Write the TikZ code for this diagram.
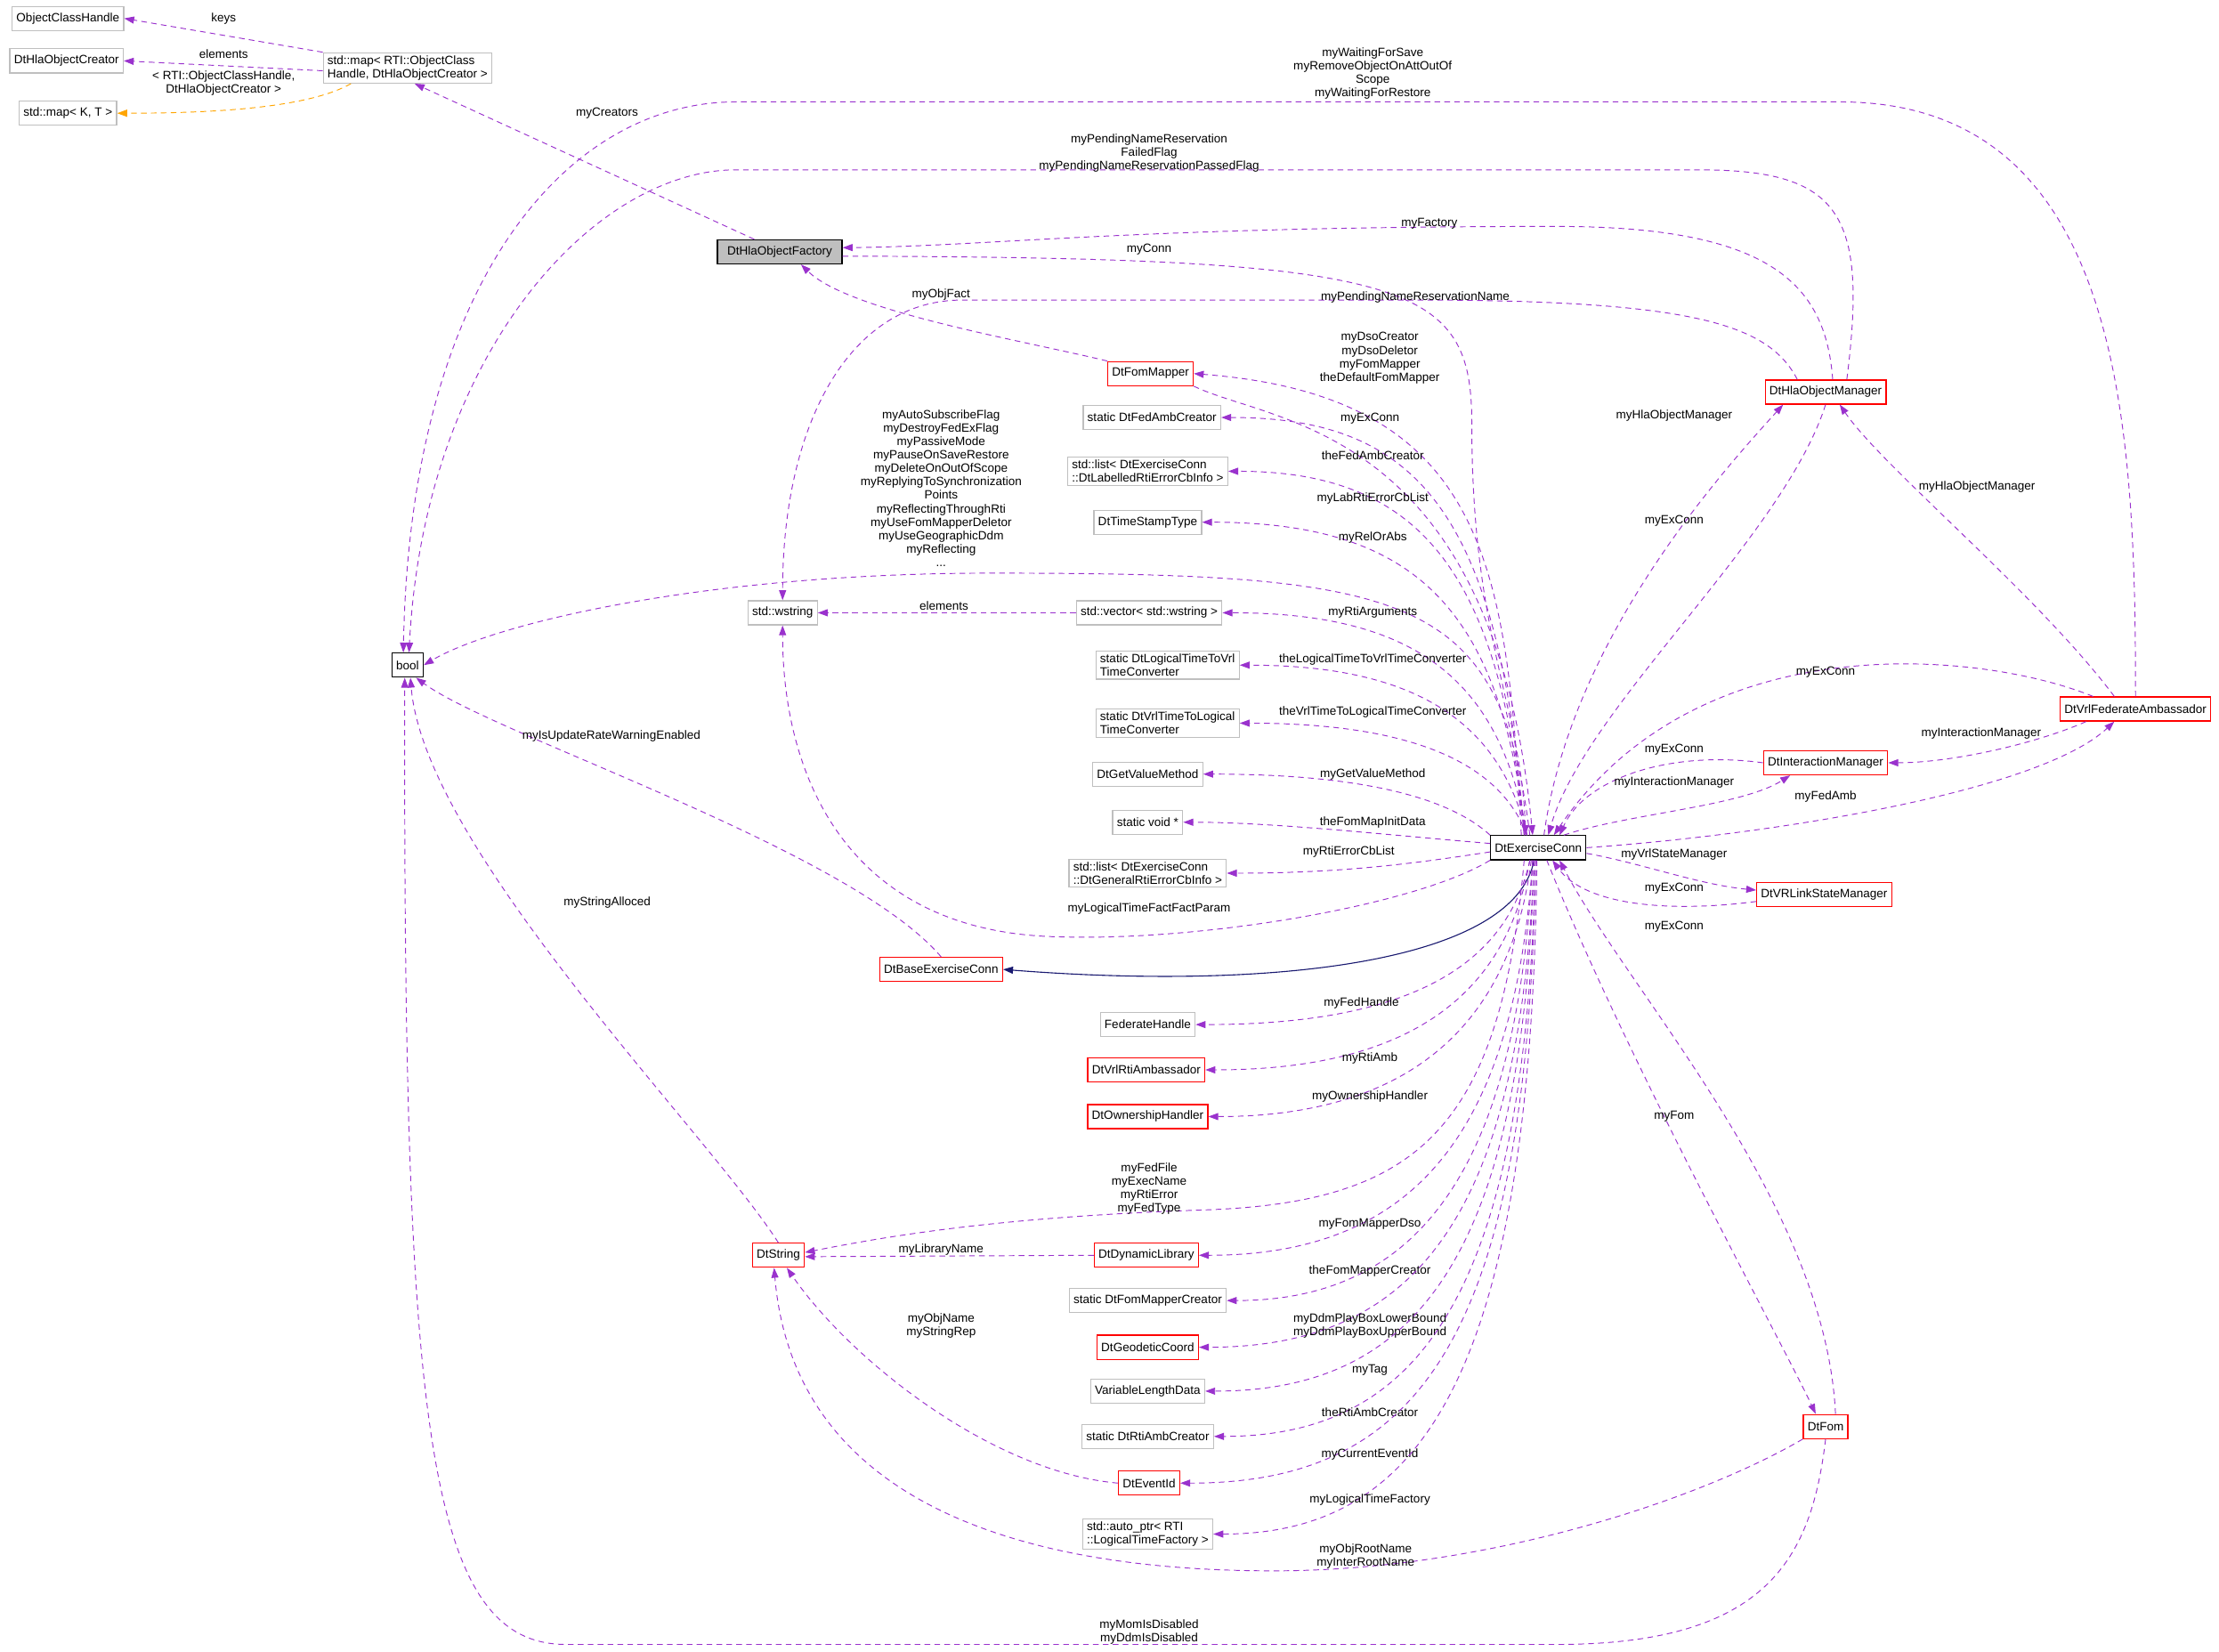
\documentclass[tikz,border=0pt]{standalone}
\usepackage{fontspec}
\setmainfont{Liberation Sans}
\usetikzlibrary{arrows.meta}
\definecolor{pu}{HTML}{9A32CD}
\definecolor{gb}{HTML}{BFBFBF}
\definecolor{nv}{HTML}{191970}
\definecolor{og}{HTML}{FFA500}
\begin{document}
\begin{tikzpicture}[x=1pt,y=-1pt,
  every node/.style={font=\fontsize{8.5}{9.5}\selectfont},
  box/.style={draw=gb,line width=0.8pt,rectangle,inner xsep=3pt,inner ysep=2pt,minimum height=17pt},
  rbox/.style={box,draw=red},
  kbox/.style={box,draw=black},
  e/.style={draw=pu,line width=0.6pt,dash pattern=on 4pt off 3pt,-{Triangle[length=7pt,width=5pt]}},
  lb/.style={inner sep=0pt,align=center}]
\useasboundingbox (0,0) rectangle (1568,1167);
% nodes
\node[box] (och) at (48,13) {ObjectClassHandle};
\node[box] (cre) at (47,43) {DtHlaObjectCreator};
\node[box] (mkt) at (48,80) {std::map< K, T >};
\node[box,align=left] (map) at (288,48) {std::map< RTI::ObjectClass\\Handle, DtHlaObjectCreator >};
\node[kbox] (bool) at (288,470) {bool};
\node[kbox,fill=gb,minimum width=88pt] (fac) at (551,178) {DtHlaObjectFactory};
\node[box] (ws) at (553,433) {std::wstring};
\node[rbox] (base) at (665,685) {DtBaseExerciseConn};
\node[rbox] (str) at (550,887) {DtString};
\node[rbox] (fm) at (813,264) {DtFomMapper};
\node[box] (fac1) at (814,295) {static DtFedAmbCreator};
\node[box,align=left] (lab) at (811,333) {std::list< DtExerciseConn\\::DtLabelledRtiErrorCbInfo >};
\node[box] (ts) at (811,369) {DtTimeStampType};
\node[box] (vec) at (812,433) {std::vector< std::wstring >};
\node[box,align=left] (l2v) at (825,470) {static DtLogicalTimeToVrl\\TimeConverter};
\node[box,align=left] (v2l) at (825,511) {static DtVrlTimeToLogical\\TimeConverter};
\node[box] (gv) at (811,547) {DtGetValueMethod};
\node[box] (sv) at (811,581) {static void *};
\node[box,align=left] (gen) at (811,617) {std::list< DtExerciseConn\\::DtGeneralRtiErrorCbInfo >};
\node[box] (fh) at (811,724) {FederateHandle};
\node[rbox] (ra) at (810,756) {DtVrlRtiAmbassador};
\node[rbox] (oh) at (811,789) {DtOwnershipHandler};
\node[rbox] (dl) at (810,887) {DtDynamicLibrary};
\node[box] (fmc) at (811,919) {static DtFomMapperCreator};
\node[rbox] (geo) at (811,952) {DtGeodeticCoord};
\node[box] (vld) at (811,983) {VariableLengthData};
\node[box] (rac) at (811,1015) {static DtRtiAmbCreator};
\node[rbox] (eid) at (812,1048) {DtEventId};
\node[box,align=left] (ap) at (811,1084) {std::auto\_ptr< RTI\\::LogicalTimeFactory >};
\node[kbox] (ex) at (1087,599) {DtExerciseConn};
\node[rbox] (hm) at (1290,277) {DtHlaObjectManager};
\node[rbox] (im) at (1290,539) {DtInteractionManager};
\node[rbox] (vf) at (1509,501) {DtVrlFederateAmbassador};
\node[rbox] (vl) at (1289,632) {DtVRLinkStateManager};
\node[rbox] (fom) at (1290,1008) {DtFom};
% top-left cluster
\draw[e] (map.north west) -- (och.east);
\draw[e] ([yshift=-2pt]map.west) -- (cre.east);
\draw[e,draw=og] ([xshift=-40pt]map.south) .. controls (220,75) and (160,80) .. (mkt.east);
\draw[e] ([xshift=-18pt]fac.north) -- ([xshift=5pt]map.south);
\node[lb] (l1) at (158,13) {keys};
\node[lb] (l2) at (158,38) {elements};
\node[lb] (l3) at (158,59) {< RTI::ObjectClassHandle,\\DtHlaObjectCreator >};
\node[lb] (l4) at (429,80) {myCreators};
% long curves to bool
\draw[e] ([xshift=-6pt]ex.north) .. controls (1060,420) and (1000,405) .. (700,405) .. controls (500,405) and (350,440) .. (bool.east);
\node[lb] (l5) at (665,345) {myAutoSubscribeFlag\\myDestroyFedExFlag\\myPassiveMode\\myPauseOnSaveRestore\\myDeleteOnOutOfScope\\myReplyingToSynchronization\\Points\\myReflectingThroughRti\\myUseFomMapperDeletor\\myUseGeographicDdm\\myReflecting\\...};
\draw[e] (vf.north) .. controls (1509,300) and (1500,72) .. (1300,72) -- (520,72) .. controls (400,72) and (290,200) .. ([xshift=-3pt]bool.north);
\node[lb] (l6) at (970,52) {myWaitingForSave\\myRemoveObjectOnAttOutOf\\Scope\\myWaitingForRestore};
\draw[e] ([xshift=15pt]hm.north) .. controls (1320,150) and (1300,120) .. (1200,120) -- (520,120) .. controls (420,120) and (300,250) .. ([xshift=1pt]bool.north);
\node[lb] (l7) at (812,108) {myPendingNameReservation\\FailedFlag\\myPendingNameReservationPassedFlag};
\draw[e] ([xshift=5pt]hm.north) .. controls (1290,200) and (1250,160) .. (1100,160) .. controls (800,160) and (700,174) .. ([yshift=3pt]fac.east);
\node[lb] (l8) at (1010,158) {myFactory};
\draw[e] ([yshift=-3pt]fac.east) .. controls (1000,182) and (1040,200) .. (1040,300) .. controls (1040,450) and (1075,500) .. ([xshift=-9pt]ex.north);
\node[lb] (l9) at (812,176) {myConn};
\draw[e] (fm.north west) .. controls (720,240) and (600,220) .. ([xshift=15pt]fac.south);
\node[lb] (l10) at (665,208) {myObjFact};
\draw[e] ([xshift=-20pt]hm.north) .. controls (1250,230) and (1200,212) .. (1000,212) -- (680,212) .. controls (600,212) and (553,300) .. (ws.north);
\node[lb] (l11) at (1000,210) {myPendingNameReservationName};
% left-top targets
\draw[e] ([xshift=-12pt]ex.north) .. controls (1065,400) and (1050,280) .. (fm.east);
\node[lb] (l12) at (975,253) {myDsoCreator\\myDsoDeletor\\myFomMapper\\theDefaultFomMapper};
\draw[e] (fm.south east) .. controls (900,300) and (1055,300) .. ([xshift=-4pt]ex.north);
\node[lb] (l13) at (968,296) {myExConn};
\draw[e] ([xshift=-10pt]ex.north) .. controls (1060,360) and (1000,295) .. (fac1.east);
\node[lb] (l14) at (970,322) {theFedAmbCreator};
\draw[e] ([xshift=-10pt]ex.north) .. controls (1060,400) and (1000,333) .. (lab.east);
\node[lb] (l15) at (970,352) {myLabRtiErrorCbList};
\draw[e] ([xshift=-9pt]ex.north) .. controls (1060,430) and (1000,369) .. (ts.east);
\node[lb] (l16) at (970,380) {myRelOrAbs};
\draw[e] ([xshift=-8pt]ex.north) .. controls (1060,480) and (1000,433) .. (vec.east);
\node[lb] (l17) at (970,433) {myRtiArguments};
\draw[e] (vec.west) -- (ws.east);
\node[lb] (l18) at (667,428) {elements};
\draw[e] ([xshift=-8pt]ex.north) .. controls (1060,510) and (1000,470) .. (l2v.east);
\node[lb] (l19) at (970,466) {theLogicalTimeToVrlTimeConverter};
\draw[e] ([xshift=-8pt]ex.north) .. controls (1060,540) and (1000,511) .. (v2l.east);
\node[lb] (l20) at (970,503) {theVrlTimeToLogicalTimeConverter};
\draw[e] (ex.north west) .. controls (1020,560) and (950,547) .. (gv.east);
\node[lb] (l21) at (970,547) {myGetValueMethod};
\draw[e] ([yshift=3pt]ex.west) .. controls (980,590) and (900,581) .. (sv.east);
\node[lb] (l22) at (970,581) {theFomMapInitData};
\draw[e] ([yshift=-3pt]ex.west) .. controls (1000,610) and (950,617) .. (gen.east);
\node[lb] (l23) at (953,602) {myRtiErrorCbList};
\draw[e] (ex.south west) .. controls (1000,640) and (850,665) .. (750,662) .. controls (600,660) and (553,550) .. (ws.south);
\node[lb] (l24) at (812,642) {myLogicalTimeFactFactParam};
% inheritance
\draw[draw=nv,line width=0.7pt,-{Triangle[length=7pt,width=5pt]}] ([xshift=-3pt]ex.south) .. controls (1070,680) and (900,700) .. (base.east);
\draw[e] (base.north) .. controls (600,600) and (350,520) .. ([xshift=6pt]bool.south);
\node[lb] (l25) at (432,520) {myIsUpdateRateWarningEnabled};
\draw[e] (str.north) .. controls (500,800) and (300,600) .. ([xshift=2pt]bool.south);
\node[lb] (l26) at (429,638) {myStringAlloced};
% bottom-left targets
\draw[e] ([xshift=-6pt]ex.south) .. controls (1065,680) and (1000,724) .. (fh.east);
\node[lb] (l27) at (962,709) {myFedHandle};
\draw[e] ([xshift=-6pt]ex.south) .. controls (1065,700) and (1000,756) .. (ra.east);
\node[lb] (l28) at (968,748) {myRtiAmb};
\draw[e] ([xshift=-5pt]ex.south) .. controls (1068,720) and (1000,789) .. (oh.east);
\node[lb] (l29) at (968,775) {myOwnershipHandler};
\draw[e] ([xshift=-10pt]ex.south) .. controls (1060,800) and (1000,850) .. (850,855) .. controls (700,860) and (620,875) .. ([yshift=2pt]str.east);
\node[lb] (l30) at (812,840) {myFedFile\\myExecName\\myRtiError\\myFedType};
\draw[e] ([xshift=-4pt]ex.south) .. controls (1070,800) and (1000,887) .. (dl.east);
\node[lb] (l31) at (968,865) {myFomMapperDso};
\draw[e] (dl.west) -- ([yshift=-1pt]str.east);
\node[lb] (l32) at (665,883) {myLibraryName};
\draw[e] ([xshift=-4pt]ex.south) .. controls (1072,830) and (1000,919) .. (fmc.east);
\node[lb] (l33) at (968,898) {theFomMapperCreator};
\draw[e] ([xshift=-3pt]ex.south) .. controls (1074,860) and (1000,952) .. (geo.east);
\node[lb] (l34) at (968,937) {myDdmPlayBoxLowerBound\\myDdmPlayBoxUpperBound};
\draw[e] ([xshift=-3pt]ex.south) .. controls (1076,890) and (1000,983) .. (vld.east);
\node[lb] (l35) at (968,968) {myTag};
\draw[e] ([xshift=-2pt]ex.south) .. controls (1078,920) and (1000,1015) .. (rac.east);
\node[lb] (l36) at (968,998) {theRtiAmbCreator};
\draw[e] ([xshift=-2pt]ex.south) .. controls (1080,950) and (1000,1048) .. (eid.east);
\node[lb] (l37) at (968,1028) {myCurrentEventId};
\draw[e] ([xshift=-1pt]ex.south) .. controls (1082,980) and (1000,1084) .. (ap.east);
\node[lb] (l38) at (968,1060) {myLogicalTimeFactory};
\draw[e] (eid.west) .. controls (700,1040) and (600,960) .. ([xshift=6pt]str.south);
\node[lb] (l39) at (665,937) {myObjName\\myStringRep};
\draw[e] (fom.south west) .. controls (1200,1060) and (1050,1110) .. (900,1110) .. controls (700,1110) and (560,1050) .. ([xshift=-3pt]str.south);
\node[lb] (l40) at (965,1100) {myObjRootName\\myInterRootName};
\draw[e] (fom.south) .. controls (1280,1100) and (1250,1162) .. (1100,1162) -- (400,1162) .. controls (300,1162) and (285,1000) .. ([xshift=-2pt]bool.south);
\node[lb] (l41) at (812,1153) {myMomIsDisabled\\myDdmIsDisabled};
% right side
\draw[e] ([xshift=4pt]ex.north) .. controls (1110,450) and (1220,330) .. ([xshift=-30pt]hm.south);
\node[lb] (l42) at (1183,294) {myHlaObjectManager};
\draw[e] (hm.south) .. controls (1260,380) and (1120,500) .. ([xshift=7pt]ex.north);
\node[lb] (l43) at (1183,368) {myExConn};
\draw[e] ([xshift=-15pt]vf.north) .. controls (1440,420) and (1330,330) .. ([xshift=10pt]hm.south);
\node[lb] (l44) at (1397,344) {myHlaObjectManager};
\draw[e] ([xshift=-30pt]vf.north) .. controls (1400,460) and (1200,440) .. ([xshift=11pt]ex.north);
\node[lb] (l45) at (1290,475) {myExConn};
\draw[e] (ex.east) .. controls (1250,590) and (1440,560) .. ([xshift=-15pt]vf.south);
\node[lb] (l46) at (1290,563) {myFedAmb};
\draw[e] ([xshift=-35pt]vf.south) .. controls (1440,525) and (1380,539) .. (im.east);
\node[lb] (l47) at (1400,518) {myInteractionManager};
\draw[e] (im.west) .. controls (1180,530) and (1120,550) .. ([xshift=15pt]ex.north);
\node[lb] (l48) at (1183,530) {myExConn};
\draw[e] ([xshift=18pt]ex.north) .. controls (1150,575) and (1230,570) .. ([xshift=-25pt]im.south);
\node[lb] (l49) at (1183,553) {myInteractionManager};
\draw[e] ([yshift=-4pt]ex.east) .. controls (1160,610) and (1200,625) .. ([yshift=3pt]vl.west);
\node[lb] (l50) at (1183,604) {myVrlStateManager};
\draw[e] ([yshift=-5pt]vl.west) .. controls (1180,645) and (1120,640) .. ([xshift=10pt]ex.south);
\node[lb] (l51) at (1183,628) {myExConn};
\draw[e] ([xshift=6pt]ex.south) .. controls (1150,750) and (1260,950) .. ([xshift=-7pt]fom.north);
\node[lb] (l52) at (1183,789) {myFom};
\draw[e] ([xshift=7pt]fom.north) .. controls (1290,850) and (1150,700) .. ([xshift=15pt]ex.south);
\node[lb] (l53) at (1183,655) {myExConn};
\end{tikzpicture}
\end{document}
